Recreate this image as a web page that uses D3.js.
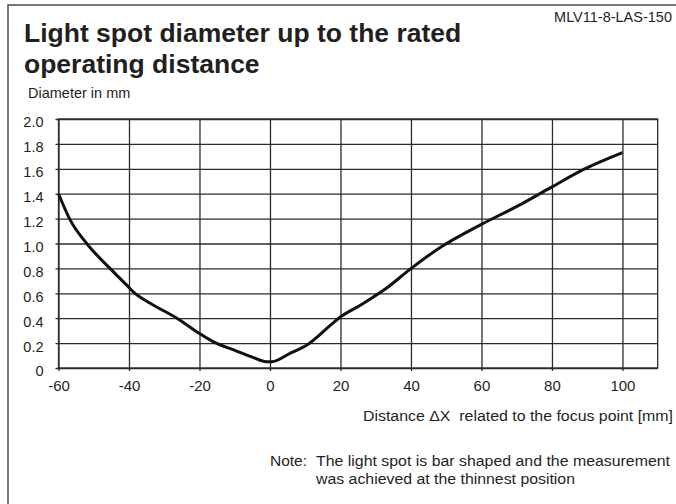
<!DOCTYPE html>
<html>
<head>
<meta charset="utf-8">
<script src="https://cdn.jsdelivr.net/npm/d3@7"></script>
<style>
  body { margin: 0; background: #fff; }
  svg text { font-family: "Liberation Sans", Arial, Helvetica, sans-serif; fill: #231f20; }
</style>
</head>
<body>
<svg id="chart" width="676" height="504"></svg>
<script>
// distance from focus point [mm]
const distance = [-60, -56.7, -52, -45.4, -40.8, -38.7, -34, -26.4, -20.7, -16, -10.3, -4.7, -1, 0.5,
                  5.8, 10.5, 17, 19.5, 26, 33, 39.6, 48.4, 59.7, 70.2, 80, 89, 100];
// light spot diameter [mm]
const diameter = [1.40, 1.19, 1.00, 0.80, 0.67, 0.61, 0.52, 0.40, 0.29, 0.21, 0.145, 0.083, 0.05, 0.05,
                  0.12, 0.185, 0.34, 0.40, 0.51, 0.64, 0.79, 0.97, 1.15, 1.30, 1.455, 1.595, 1.73];

const xTicks = [-60, -40, -20, 0, 20, 40, 60, 80, 100];
const yTicks = [0, 0.2, 0.4, 0.6, 0.8, 1.0, 1.2, 1.4, 1.6, 1.8, 2.0];

const titleLines = ["Light spot diameter up to the rated", "operating distance"];
const noteLines = ["The light spot is bar shaped and the measurement", "was achieved at the thinnest position"];

const svg = d3.select("#chart");
const margin = { left: 58.5, right: 657.7, top: 119, bottom: 368 };

const x = d3.scaleLinear().domain([-60, 110]).range([margin.left, margin.right]);
const y = d3.scaleLinear().domain([0, 2]).range([margin.bottom, margin.top]);

// outer frame (runs off the right and bottom edge)
svg.append("rect")
    .attr("x", 8).attr("y", 5)
    .attr("width", 700).attr("height", 600)
    .attr("fill", "none")
    .attr("stroke", "#4d4d4d")
    .attr("stroke-width", 1.5);

// title
svg.append("g").selectAll("text")
    .data(titleLines)
    .join("text")
    .attr("x", 24)
    .attr("y", (d, i) => 41.7 + i * 31)
    .attr("font-size", 26.5)
    .attr("font-weight", "bold")
    .text(d => d);

svg.append("text")
    .attr("x", 672).attr("y", 22)
    .attr("text-anchor", "end")
    .attr("font-size", 14.5)
    .text("MLV11-8-LAS-150");

svg.append("text")
    .attr("x", 28).attr("y", 98)
    .attr("font-size", 14.5)
    .text("Diameter in mm");

// grid + axes
const gridColor = "#2b2b2b";

const yAxis = svg.append("g")
    .attr("transform", `translate(${margin.left},0)`)
    .call(d3.axisLeft(y).tickValues(yTicks)
        .tickSize(-(margin.right - margin.left)).tickPadding(15)
        .tickFormat(d => d === 0 ? "0" : d3.format(".1f")(d)));
yAxis.select(".domain").remove();
yAxis.selectAll("line").attr("stroke", gridColor).attr("stroke-width", 1.3).attr("x1", -3);
yAxis.selectAll("text").attr("font-size", 14.5).attr("font-family", null).attr("fill", "#231f20").attr("dy", "0.55em");

const xAxis = svg.append("g")
    .attr("transform", `translate(0,${margin.bottom})`)
    .call(d3.axisBottom(x).tickValues(xTicks)
        .tickSize(-(margin.bottom - margin.top)).tickPadding(12)
        .tickFormat(d => String(d)));
xAxis.select(".domain").remove();
xAxis.selectAll("line").attr("stroke", gridColor).attr("stroke-width", 1.3).attr("y1", 3);
xAxis.selectAll("text").attr("font-size", 15).attr("font-family", null).attr("fill", "#231f20").attr("dy", "0.71em");

// plot border
svg.append("rect")
    .attr("x", margin.left).attr("y", margin.top)
    .attr("width", margin.right - margin.left)
    .attr("height", margin.bottom - margin.top)
    .attr("fill", "none")
    .attr("stroke", gridColor)
    .attr("stroke-width", 1.3);

// curve
const line = d3.line()
    .x((d, i) => x(distance[i]))
    .y(d => y(d))
    .curve(d3.curveMonotoneX);

svg.append("path")
    .datum(diameter)
    .attr("d", line)
    .attr("fill", "none")
    .attr("stroke", "#111")
    .attr("stroke-width", 3)
    .attr("stroke-linejoin", "round");

// axis title
svg.append("text")
    .attr("x", 363).attr("y", 421)
    .attr("font-size", 15.5)
    .attr("textLength", 310)
    .attr("lengthAdjust", "spacingAndGlyphs")
    .style("white-space", "pre")
    .text("Distance \u0394X  related to the focus point [mm]");

// note
svg.append("text")
    .attr("x", 270).attr("y", 466)
    .attr("font-size", 15.5)
    .text("Note:");
const noteWidths = [354, 259];
svg.append("g").selectAll("text")
    .data(noteLines)
    .join("text")
    .attr("x", 316)
    .attr("y", (d, i) => 466 + i * 17.5)
    .attr("font-size", 15.5)
    .attr("textLength", (d, i) => noteWidths[i])
    .attr("lengthAdjust", "spacingAndGlyphs")
    .text(d => d);
</script>
</body>
</html>
